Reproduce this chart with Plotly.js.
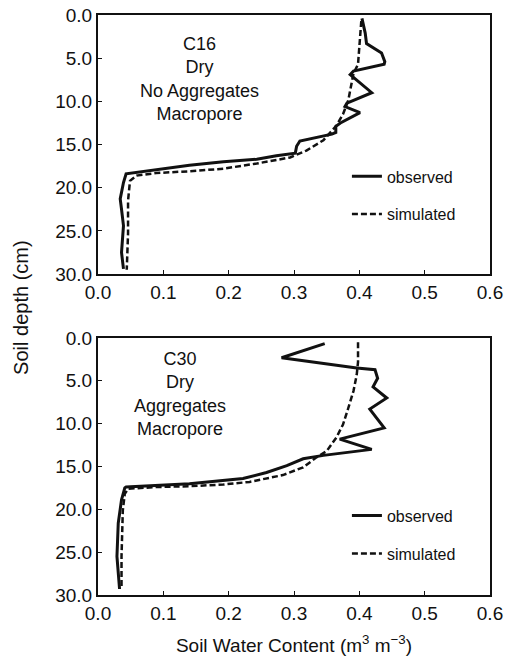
<!DOCTYPE html>
<html>
<head>
<meta charset="utf-8">
<script src="https://cdn.plot.ly/plotly-3.0.1.min.js"></script>
<style>html,body{margin:0;padding:0;background:#fff;}#chart{width:505px;height:662px;}</style>
</head>
<body>
<div id="chart"></div>
<script>
// C16 – Dry, No Aggregates, Macropore
var c16ObsDepth = [0.4, 2.1, 3.3, 4.4, 5.4, 5.7, 6.5, 6.9, 9.0, 10.2, 10.6, 11.3, 12.5, 12.9, 13.6, 13.8, 14.6, 15.2, 16.0, 16.3, 16.7, 17.0, 17.4, 17.9, 18.3, 18.4, 19.4, 21.3, 22.5, 24.4, 27.5, 29.4];
var c16ObsTheta = [0.404, 0.409, 0.411, 0.434, 0.439, 0.438, 0.391, 0.386, 0.419, 0.381, 0.378, 0.401, 0.371, 0.364, 0.364, 0.358, 0.309, 0.304, 0.302, 0.273, 0.243, 0.192, 0.140, 0.089, 0.054, 0.043, 0.039, 0.034, 0.036, 0.039, 0.036, 0.039];
var c16SimDepth = [0.7, 3.0, 5.7, 6.8, 9.9, 11.5, 12.8, 14.5, 15.7, 16.5, 17.2, 17.8, 18.1, 18.3, 18.6, 19.2, 21.5, 25.3, 29.5];
var c16SimTheta = [0.403, 0.401, 0.398, 0.391, 0.383, 0.375, 0.365, 0.345, 0.319, 0.294, 0.243, 0.192, 0.140, 0.089, 0.059, 0.049, 0.046, 0.046, 0.044];

// C30 – Dry, Aggregates, Macropore
var c30ObsDepth = [0.65, 2.3, 3.5, 3.7, 4.7, 5.7, 7.0, 8.3, 10.5, 11.8, 13.0, 13.7, 14.1, 14.9, 15.7, 16.4, 17.0, 17.2, 17.4, 17.5, 18.9, 21.6, 25.5, 29.3];
var c30ObsTheta = [0.347, 0.281, 0.396, 0.424, 0.428, 0.421, 0.442, 0.416, 0.438, 0.370, 0.419, 0.345, 0.314, 0.289, 0.258, 0.222, 0.140, 0.089, 0.043, 0.041, 0.036, 0.031, 0.029, 0.033];
var c30SimDepth = [0.5, 2.8, 4.3, 6.2, 8.2, 10.1, 11.6, 13.2, 13.9, 15.1, 16.0, 16.8, 17.1, 17.3, 17.4, 17.6, 18.2, 20.1, 25.5, 29.3];
var c30SimTheta = [0.398, 0.398, 0.396, 0.391, 0.383, 0.375, 0.365, 0.350, 0.335, 0.314, 0.283, 0.232, 0.192, 0.140, 0.089, 0.046, 0.041, 0.038, 0.036, 0.036];

var panelLabels = ["C16<br>Dry<br>No Aggregates<br>Macropore", "C30<br>Dry<br>Aggregates<br>Macropore"];
var seriesNames = ["observed", "simulated"];
var xTitle = "Soil Water Content (m<sup>3</sup> m<sup>\u22123</sup>)";
var yTitle = "Soil depth (cm)";

var ink = "#111111";
var fontFam = "Liberation Sans, Arial, sans-serif";

var obsLine = {color: ink, width: 3, dash: "solid"};
var simLine = {color: ink, width: 2.5, dash: "6px,3px"};

var traces = [
  {x: c16ObsTheta, y: c16ObsDepth, xaxis: "x", yaxis: "y", mode: "lines", line: obsLine, name: seriesNames[0], legend: "legend", legendgroup: "a"},
  {x: c16SimTheta, y: c16SimDepth, xaxis: "x", yaxis: "y", mode: "lines", line: simLine, name: seriesNames[1], legend: "legend", legendgroup: "b"},
  {x: c30ObsTheta, y: c30ObsDepth, xaxis: "x2", yaxis: "y2", mode: "lines", line: obsLine, name: seriesNames[0], legend: "legend2", legendgroup: "c"},
  {x: c30SimTheta, y: c30SimDepth, xaxis: "x2", yaxis: "y2", mode: "lines", line: simLine, name: seriesNames[1], legend: "legend2", legendgroup: "d"}
];

function xax(anchor) {
  return {
    range: [0, 0.6], dtick: 0.1, tick0: 0, tickformat: ".1f",
    showgrid: false, zeroline: false, showline: true, mirror: true,
    linecolor: ink, linewidth: 2, ticks: "inside", ticklen: 4, tickcolor: ink,
    tickfont: {family: fontFam, size: 19, color: ink},
    anchor: anchor, domain: [0, 1]
  };
}
function yax(anchor, dom) {
  return {
    range: [30, 0], dtick: 5, tick0: 0, tickformat: ".1f",
    showgrid: false, zeroline: false, showline: true, mirror: true,
    linecolor: ink, linewidth: 2, ticks: "inside", ticklen: 4, tickcolor: ink,
    tickfont: {family: fontFam, size: 19, color: ink},
    anchor: anchor, domain: dom
  };
}

var legendBase = {
  bgcolor: "rgba(0,0,0,0)", borderwidth: 0, xanchor: "left", yanchor: "top",
  font: {family: fontFam, size: 16, color: ink}, tracegroupgap: 14, itemwidth: 30
};

var x2 = xax("y2");
x2.title = {text: xTitle, font: {family: fontFam, size: 19, color: ink}, standoff: 16};

var layout = {
  width: 505, height: 662,
  margin: {l: 98, r: 15, t: 15, b: 67},
  paper_bgcolor: "#ffffff", plot_bgcolor: "#ffffff",
  showlegend: true,
  xaxis: xax("y"),
  yaxis: yax("x", [0.5534, 1]),
  xaxis2: x2,
  yaxis2: yax("x2", [0, 0.4431]),
  legend: Object.assign({}, legendBase, {x: 0.635, y: 0.751}),
  legend2: Object.assign({}, legendBase, {x: 0.635, y: 0.166}),
  annotations: [
    {text: panelLabels[0], xref: "x", yref: "y", x: 0.156, y: 7.4, showarrow: false, align: "center",
     font: {family: fontFam, size: 18, color: ink}},
    {text: panelLabels[1], xref: "x2", yref: "y2", x: 0.126, y: 6.5, showarrow: false, align: "center",
     font: {family: fontFam, size: 18, color: ink}},
    {text: yTitle, xref: "paper", yref: "paper", x: -0.195, y: 0.496, xanchor: "center", yanchor: "middle",
     showarrow: false, textangle: -90, font: {family: fontFam, size: 20, color: ink}}
  ]
};

Plotly.newPlot("chart", traces, layout, {staticPlot: true, displayModeBar: false});
</script>
</body>
</html>
